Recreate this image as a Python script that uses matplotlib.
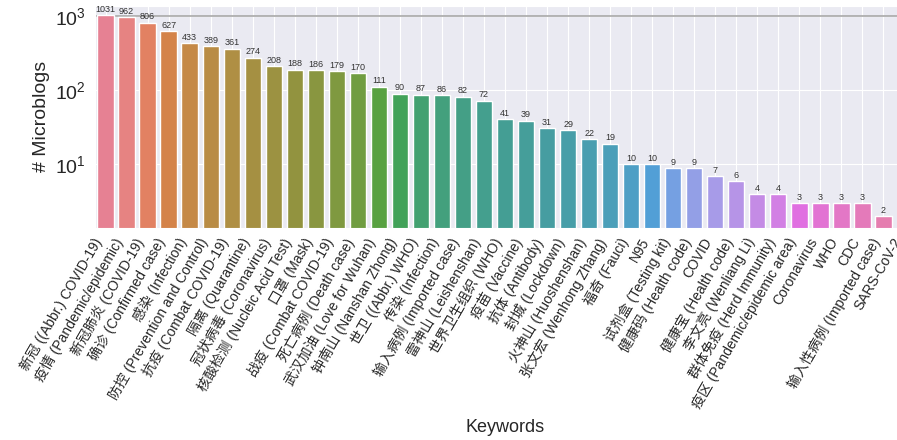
import matplotlib
matplotlib.use("Agg")
import matplotlib.pyplot as plt
import seaborn as sns
import numpy as np

# keyword counts (sorted), last one is cut off in the reference
keywords = [
    "新冠 ((Abbr.) COVID-19)", "疫情 (Pandemic/epidemic)", "新冠肺炎 (COVID-19)",
    "确诊 (Confirmed case)", "感染 (Infection)", "防控 (Prevention and Control)",
    "抗疫 (Combat COVID-19)", "隔离 (Quarantine)", "冠状病毒 (Coronavirus)",
    "核酸检测 (Nucleic Acid Test)", "口罩 (Mask)", "战疫 (Combat COVID-19)",
    "死亡病例 (Death case)", "武汉加油 (Love for Wuhan)", "钟南山 (Nanshan Zhong)",
    "世卫 ((Abbr.) WHO)", "传染 (Infection)", "输入病例 (Imported case)",
    "雷神山 (Leishenshan)", "世界卫生组织 (WHO)", "疫苗 (Vaccine)", "抗体 (Antibody)",
    "封城 (Lockdown)", "火神山 (Huoshenshan)", "张文宏 (Wenhong Zhang)", "福奇 (Fauci)",
    "N95", "试剂盒 (Testing kit)", "健康码 (Health code)", "COVID",
    "健康宝 (Health code)", "李文亮 (Wenliang Li)", "群体免疫 (Herd Immunity)",
    "疫区 (Pandemic/epidemic area)", "Coronavirus", "WHO", "CDC",
    "输入性病例 (Imported case)", "SARS-CoV-2",
]
counts = [1031, 962, 806, 627, 433, 389, 361, 274, 208, 188, 186, 179, 170,
          111, 90, 87, 86, 82, 72, 41, 39, 31, 29, 22, 19, 10, 10, 9, 9, 7,
          6, 4, 4, 3, 3, 3, 3, 2, 1]

sns.set_style("darkgrid")
plt.rcParams['font.family'] = ['Liberation Sans', 'Noto Sans CJK SC', 'DejaVu Sans']

n = len(counts)
colors = [sns.desaturate(c, 0.75) for c in sns.color_palette("husl", n)]

fig = plt.figure(figsize=(8.97, 4.4), dpi=100)
# axes runs past the right edge, like the cropped original
ax = fig.add_axes([0.106, 0.482, 0.914, 0.505])

x = np.arange(n)
ax.bar(x, counts, width=0.78, color=colors, zorder=2)
ax.axhline(1000, color='#a8a8a8', lw=1.2, zorder=1)
ax.set_yscale('log')
ax.set_ylim(1.4, 1365)
ax.set_xlim(-0.5, n - 0.5)

for xi, c in zip(x, counts):
    ax.text(xi, c * 1.04, str(c), ha='center', va='bottom', fontsize=6.5, color='#333333')

ax.set_xticks(x)
ax.set_xticklabels(keywords, rotation=60, ha='right', fontsize=10)
ax.tick_params(axis='y', labelsize=14, pad=3)
ax.tick_params(axis='x', pad=2)
ax.set_ylabel("# Microblogs", fontsize=14)
ax.yaxis.set_label_coords(-0.055, 0.5)
ax.set_xlabel("Keywords", fontsize=13)
ax.xaxis.set_label_coords(0.5, -0.86)

fig.savefig("out.png", dpi=100)
